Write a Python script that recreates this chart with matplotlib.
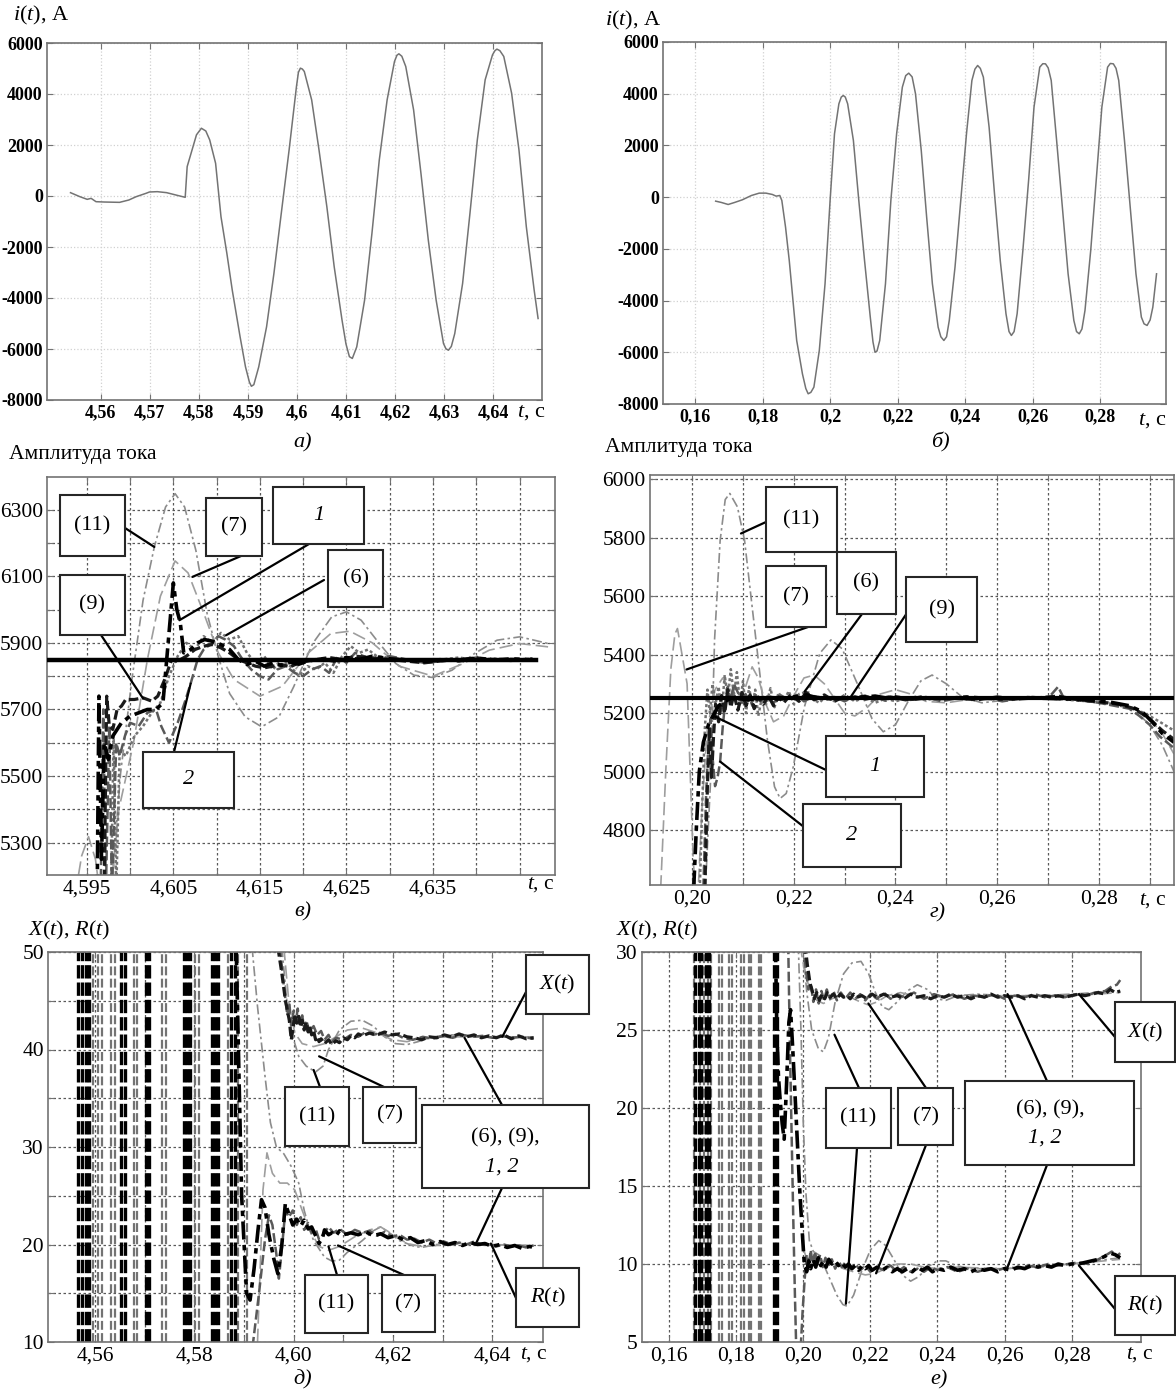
import numpy as np
import matplotlib
matplotlib.use("Agg")
import matplotlib.pyplot as plt
from matplotlib.patches import Rectangle

plt.rcParams['font.family'] = ['Liberation Serif', 'DejaVu Serif']
plt.rcParams['mathtext.fontset'] = 'custom'
plt.rcParams['mathtext.rm'] = 'Liberation Serif'
plt.rcParams['mathtext.it'] = 'Liberation Serif:italic'

W, H = 1176, 1394

# ---------- а) current i(t), model 1
a_pts = [(4.5538,130),(4.5557,-26),(4.5572,-131),(4.5580,-92),(4.5590,-223),(4.5607,-236),(4.5638,-249),
         (4.5657,-157),(4.5672,-26),(4.5692,105),(4.5699,157),(4.5715,170),(4.5734,131),(4.5753,39),(4.5772,-52),
         (4.5776,1152),(4.5784,1676),(4.5795,2400),(4.5805,2657),(4.5814,2550),(4.5822,2199),(4.5834,1283),
         (4.5845,-812),(4.5857,-2251),(4.5868,-3691),(4.5884,-5524),(4.5895,-6700),(4.5903,-7300),(4.5907,-7461),
         (4.5912,-7400),(4.5922,-6702),(4.5938,-5131),(4.5953,-3037),(4.5968,-681),(4.5984,1806),(4.5999,4294),
         (4.6003,4850),(4.6007,5013),(4.6011,4980),(4.6015,4883),(4.6030,3770),(4.6045,1806),(4.6061,-419),
         (4.6076,-2775),(4.6092,-4869),(4.6100,-5800),(4.6107,-6300),(4.6113,-6370),(4.6122,-5917),(4.6138,-4084),
         (4.6153,-1466),(4.6168,1414),(4.6184,3770),(4.6199,5275),(4.6204,5520),(4.6208,5576),(4.6214,5480),
         (4.6222,5079),(4.6238,3377),(4.6253,890),(4.6268,-1728),(4.6284,-4084),(4.6299,-5786),(4.6304,-5990),
         (4.6309,-6048),(4.6315,-5900),(4.6322,-5393),(4.6338,-3430),(4.6353,-681),(4.6368,2199),(4.6384,4555),
         (4.6399,5537),(4.6404,5700),(4.6408,5760),(4.6414,5700),(4.6422,5472),(4.6438,4032),(4.6453,1806),
         (4.6468,-1204),(4.6484,-3691),(4.6492,-4804)]
a_xt = [4.56, 4.57, 4.58, 4.59, 4.60, 4.61, 4.62, 4.63, 4.64]
a_xl = ['4,56', '4,57', '4,58', '4,59', '4,6', '4,61', '4,62', '4,63', '4,64']
i_yt = [6000, 4000, 2000, 0, -2000, -4000, -6000, -8000]
i_yl = ['6000', '4000', '2000', '0', '-2000', '-4000', '-6000', '-8000']

# ---------- б) current i(t), model 2
b_pts = [(0.1661,-155),(0.1678,-206),(0.1698,-284),(0.1717,-206),(0.1740,-103),(0.1767,64),(0.1790,155),
         (0.1810,155),(0.1829,103),(0.1840,39),(0.1851,64),(0.1857,-129),(0.1868,-1160),(0.1879,-2449),
         (0.1890,-3996),(0.1901,-5543),(0.1918,-6832),(0.1928,-7400),(0.1935,-7605),(0.1943,-7550),(0.1952,-7347),
         (0.1968,-5929),(0.1985,-3351),(0.2000,-129),(0.2013,2449),(0.2026,3609),(0.2033,3870),(0.2039,3931),
         (0.2045,3870),(0.2052,3609),(0.2069,2191),(0.2085,-129),(0.2102,-2449),(0.2119,-4640),(0.2127,-5600),
         (0.2133,-6000),(0.2139,-5950),(0.2147,-5543),(0.2164,-3351),(0.2180,-129),(0.2197,2449),(0.2214,4254),
         (0.2224,4700),(0.2233,4795),(0.2243,4650),(0.2253,3996),(0.2270,1805),(0.2286,-773),(0.2303,-3351),
         (0.2320,-5027),(0.2328,-5400),(0.2337,-5543),(0.2345,-5400),(0.2353,-4769),(0.2370,-2707),(0.2387,-129),
         (0.2404,2449),(0.2420,4512),(0.2429,4950),(0.2437,5092),(0.2445,4980),(0.2454,4640),(0.2471,2707),
         (0.2487,129),(0.2504,-2449),(0.2521,-4511),(0.2530,-5200),(0.2537,-5349),(0.2545,-5200),(0.2554,-4511),
         (0.2571,-2062),(0.2588,645),(0.2604,3480),(0.2621,5027),(0.2630,5160),(0.2638,5156),(0.2646,5000),
         (0.2655,4512),(0.2671,2191),(0.2688,-387),(0.2705,-2965),(0.2722,-4769),(0.2730,-5200),(0.2738,-5285),
         (0.2746,-5100),(0.2755,-4383),(0.2772,-2062),(0.2789,773),(0.2805,3480),(0.2822,5027),(0.2830,5170),
         (0.2839,5156),(0.2847,4980),(0.2855,4512),(0.2872,2191),(0.2889,-387),(0.2906,-2965),(0.2922,-4640),
         (0.2930,-4900),(0.2939,-4962),(0.2948,-4750),(0.2956,-4254),(0.2967,-2965)]
b_xt = [0.16, 0.18, 0.20, 0.22, 0.24, 0.26, 0.28]
b_xl = ['0,16', '0,18', '0,2', '0,22', '0,24', '0,26', '0,28']

# ---------- в) amplitude estimates, model 1
v_ref = 5850
v_c11 = [(4.5975,5150),(4.5980,5208),(4.5989,5508),(4.6002,5788),(4.6015,6028),(4.6028,6188),(4.6041,6308),
         (4.6052,6348),(4.6063,6308),(4.6076,6178),(4.6089,5988),(4.6102,5858),(4.6115,5748),(4.6133,5678),
         (4.6152,5648),(4.6172,5678),(4.6189,5768),(4.6211,5898),(4.6233,5978),(4.6250,5993),(4.6267,5968),
         (4.6285,5908),(4.6307,5838),(4.6328,5803),(4.6350,5796),(4.6372,5818),(4.6398,5868),(4.6424,5908),
         (4.6450,5918),(4.6467,5908),(4.6483,5898)]
v_c7 = [(4.5937,5150),(4.5944,5260),(4.5952,5318),(4.5960,5250),(4.5965,5150),(np.nan,np.nan),
        (4.5978,5150),(4.5987,5400),(4.6004,5600),(4.6020,5850),(4.6035,6040),(4.6052,6146),(4.6067,6110),
        (4.6085,5990),(4.6102,5870),(4.6120,5790),(4.6150,5740),(4.6176,5770),(4.6206,5870),(4.6232,5928),
        (4.6254,5935),(4.6280,5900),(4.6311,5830),(4.6350,5800),(4.6385,5838),(4.6415,5878),(4.6450,5898),
        (4.6483,5888)]
v_c1 = [(4.5962,5150),(4.5964,5740),(4.5967,5250),(4.5970,5600),(4.5975,5550),(4.5980,5620),(4.5990,5660),
        (4.6000,5680),(4.6010,5690),(4.6020,5700),(4.6030,5700),(4.6038,5720),(4.6044,5900),(4.6050,6080),
        (4.6054,6000),(4.6058,5960),(4.6062,5870),(4.6070,5880),(4.6078,5900),(4.6086,5910),(4.6095,5905),
        (4.6105,5895),(4.6115,5880),(4.6125,5850),(4.6135,5835),(4.6145,5845),(4.6155,5830),(4.6165,5840),
        (4.6175,5832),(4.6185,5842),(4.6195,5836),(4.6205,5845),(4.6220,5852),(4.6235,5846),(4.6250,5856),
        (4.6265,5850),(4.6280,5860),(4.6300,5852),(4.6320,5848),(4.6340,5844),(4.6360,5850),(4.6380,5846),
        (4.6400,5854),(4.6420,5848),(4.6440,5852),(4.6465,5849)]
v_c9 = [(4.5970,5150),(4.5973,5740),(4.5976,5650),(4.5980,5640),(4.5985,5700),(4.5990,5710),(4.5995,5730),
        (4.6005,5730),(4.6015,5735),(4.6025,5725),(4.6032,5740),(4.6040,5790),(4.6048,5850),(4.6055,5845),
        (4.6065,5860),(4.6075,5880),(4.6085,5890),(4.6095,5895),(4.6105,5885),(4.6115,5870),(4.6125,5850),
        (4.6135,5840),(4.6145,5830),(4.6155,5825),(4.6165,5830),(4.6175,5835),(4.6185,5828),(4.6195,5840),
        (4.6205,5845),(4.6215,5850),(4.6230,5856),(4.6245,5850),(4.6260,5860),(4.6280,5855),(4.6300,5850),
        (4.6320,5845),(4.6340,5840),(4.6360,5846),(4.6380,5850),(4.6400,5855),(4.6420,5850),(4.6440,5847),
        (4.6465,5852)]
v_c2 = [(4.5966,5150),(4.5969,5700),(4.5972,5150),(4.5976,5650),(4.5979,5150),(4.5984,5600),(4.5988,5560),
        (4.5994,5620),(4.6000,5660),(4.6010,5650),(4.6020,5690),(4.6030,5700),(4.6036,5650),(4.6045,5600),
        (4.6055,5660),(4.6063,5720),(4.6070,5778),(4.6078,5850),(4.6085,5880),(4.6095,5900),(4.6102,5920),
        (4.6110,5910),(4.6120,5890),(4.6130,5850),(4.6140,5820),(4.6150,5800),(4.6160,5790),(4.6170,5820),
        (4.6180,5830),(4.6190,5810),(4.6200,5800),(4.6210,5820),(4.6220,5830),(4.6230,5810),(4.6240,5860),
        (4.6250,5840),(4.6260,5870),(4.6270,5860),(4.6280,5850),(4.6300,5860),(4.6320,5850),(4.6340,5840),
        (4.6360,5845),(4.6380,5850),(4.6400,5855),(4.6420,5848),(4.6440,5852),(4.6465,5850)]
v_c6 = [(4.5978,5150),(4.5981,5620),(4.5984,5150),(4.5988,5580),(4.5995,5560),(4.6005,5620),(4.6015,5650),
        (4.6025,5690),(4.6035,5720),(4.6045,5800),(4.6055,5860),(4.6065,5900),(4.6075,5880),(4.6085,5920),
        (4.6095,5900),(4.6105,5930),(4.6115,5910),(4.6125,5920),(4.6135,5870),(4.6145,5840),(4.6155,5860),
        (4.6165,5820),(4.6175,5850),(4.6185,5830),(4.6195,5800),(4.6205,5830),(4.6215,5820),(4.6225,5840),
        (4.6235,5810),(4.6245,5860),(4.6255,5890),(4.6265,5870),(4.6275,5880),(4.6285,5860),(4.6300,5855),
        (4.6320,5850),(4.6340,5842),(4.6360,5850),(4.6380,5856),(4.6400,5848),(4.6420,5853),(4.6440,5849),
        (4.6465,5852)]
v_xt = [4.595, 4.605, 4.615, 4.625, 4.635]
v_xl = ['4,595', '4,605', '4,615', '4,625', '4,635']
v_xgrid = [4.600, 4.610, 4.620, 4.630, 4.640, 4.645]
v_yt = [5300, 5500, 5700, 5900, 6100, 6300]
v_ygrid = [5400, 5600, 5800, 6000, 6200]

# ---------- г) amplitude estimates, model 2
g_ref = 5250
g_c11 = [(0.2026,4600),(0.2037,5000),(0.2044,5450),(0.2055,5790),(0.2065,5930),(0.2074,5951),(0.2089,5905),
         (0.2103,5791),(0.2118,5563),(0.2133,5336),(0.2148,5108),(0.2162,4948),(0.2173,4908),(0.2185,4925),
         (0.2199,5017),(0.2221,5222),(0.2251,5404),(0.2273,5450),(0.2295,5420),(0.2325,5300),(0.2354,5180),
         (0.2376,5136),(0.2400,5160),(0.2425,5240),(0.2450,5310),(0.2472,5330),(0.2500,5300),(0.2531,5255),
         (0.2570,5235),(0.2620,5245),(0.2680,5255),(0.2740,5245),(0.2800,5240),(0.2840,5230),(0.2870,5210),
         (0.2900,5160),(0.2925,5090),(0.2948,5000)]
g_c7 = [(0.1938,4600),(0.1948,5000),(0.1958,5350),(0.1966,5470),(0.1971,5489),(0.1977,5430),(0.1984,5360),
        (0.1990,5300),(0.1996,5000),(0.2002,4700),(0.2006,4600),(0.2012,4600),(0.2020,4900),(0.2030,5150),
        (0.2045,5280),(0.2060,5320),(0.2075,5280),(0.2090,5230),(0.2105,5290),(0.2118,5358),(0.2130,5320),
        (0.2145,5230),(0.2160,5170),(0.2180,5190),(0.2200,5260),(0.2220,5320),(0.2240,5330),(0.2260,5300),
        (0.2280,5250),(0.2300,5200),(0.2320,5190),(0.2345,5220),(0.2370,5265),(0.2400,5280),(0.2430,5265),
        (0.2460,5240),(0.2500,5235),(0.2550,5248),(0.2600,5255),(0.2650,5250),(0.2700,5252),(0.2750,5248),
        (0.2800,5242),(0.2840,5232),(0.2870,5215),(0.2900,5180),(0.2925,5130),(0.2948,5060)]
g_c1 = [(0.2003,4600),(0.2008,4800),(0.2014,5000),(0.2022,5100),(0.2032,5160),(0.2041,5191),(0.2052,5225),
        (0.2064,5240),(0.2078,5252),(0.2090,5250),(0.2110,5245),(0.2130,5250),(0.2150,5255),(0.2170,5248),
        (0.2190,5252),(0.2210,5258),(0.2225,5262),(0.2240,5255),(0.2260,5250),(0.2280,5248),(0.2300,5252),
        (0.2320,5250),(0.2340,5255),(0.2360,5258),(0.2380,5252),(0.2400,5255),(0.2420,5250),(0.2440,5248),
        (0.2460,5252),(0.2500,5250),(0.2540,5255),(0.2580,5250),(0.2620,5248),(0.2660,5252),(0.2700,5250),
        (0.2740,5248),(0.2780,5245),(0.2820,5238),(0.2860,5225),(0.2885,5205),(0.2905,5170),(0.2925,5130),
        (0.2948,5100)]
g_c2 = [(0.2022,4600),(0.2027,4900),(0.2032,5100),(0.2036,5180),(0.2040,5050),(0.2045,4950),(0.2050,4980),
        (0.2055,5034),(0.2060,5150),(0.2065,5240),(0.2070,5290),(0.2076,5240),(0.2082,5300),(0.2090,5270),
        (0.2098,5235),(0.2105,5265),(0.2115,5230),(0.2125,5260),(0.2135,5240),(0.2145,5255),(0.2160,5235),
        (0.2175,5260),(0.2190,5245),(0.2205,5262),(0.2220,5240),(0.2240,5258),(0.2260,5245),(0.2280,5255),
        (0.2300,5240),(0.2320,5258),(0.2340,5245),(0.2360,5255),(0.2380,5242),(0.2400,5252),(0.2430,5245),
        (0.2460,5255),(0.2490,5240),(0.2520,5250),(0.2550,5245),(0.2580,5252),(0.2610,5240),(0.2640,5248),
        (0.2670,5255),(0.2700,5250),(0.2720,5290),(0.2730,5255),(0.2760,5245),(0.2800,5235),(0.2830,5225),
        (0.2860,5215),(0.2880,5190),(0.2900,5160),(0.2920,5120),(0.2948,5080)]
g_c6 = [(0.2015,4600),(0.2020,4900),(0.2025,5150),(0.2030,5280),(0.2035,5200),(0.2040,5300),(0.2046,5230),
        (0.2052,5290),(0.2058,5200),(0.2064,5330),(0.2070,5250),(0.2076,5350),(0.2082,5260),(0.2088,5340),
        (0.2094,5230),(0.2100,5310),(0.2106,5200),(0.2112,5290),(0.2118,5220),(0.2124,5280),(0.2130,5190),
        (0.2138,5260),(0.2146,5230),(0.2154,5285),(0.2162,5220),(0.2170,5270),(0.2180,5240),(0.2190,5275),
        (0.2200,5230),(0.2210,5265),(0.2220,5270),(0.2235,5250),(0.2250,5235),(0.2265,5260),(0.2280,5240),
        (0.2300,5262),(0.2320,5240),(0.2340,5255),(0.2360,5235),(0.2380,5250),(0.2400,5240),(0.2430,5255),
        (0.2460,5245),(0.2500,5255),(0.2540,5248),(0.2580,5252),(0.2620,5245),(0.2660,5255),(0.2700,5250),
        (0.2740,5245),(0.2780,5240),(0.2820,5230),(0.2860,5220),(0.2890,5200),(0.2920,5170),(0.2948,5140)]
g_c9 = [(0.2025,4600),(0.2030,4950),(0.2034,5150),(0.2038,4980),(0.2042,5120),(0.2046,5230),(0.2052,5170),
        (0.2058,5260),(0.2064,5200),(0.2070,5280),(0.2076,5220),(0.2082,5265),(0.2090,5210),(0.2098,5270),
        (0.2106,5225),(0.2114,5262),(0.2122,5215),(0.2130,5255),(0.2140,5230),(0.2150,5260),(0.2160,5225),
        (0.2170,5255),(0.2180,5235),(0.2195,5265),(0.2210,5240),(0.2225,5270),(0.2240,5245),(0.2260,5262),
        (0.2280,5240),(0.2300,5258),(0.2310,5250),(0.2340,5258),(0.2360,5248),(0.2390,5255),(0.2420,5245),
        (0.2450,5255),(0.2480,5248),(0.2520,5252),(0.2560,5245),(0.2600,5255),(0.2640,5248),(0.2680,5252),
        (0.2720,5258),(0.2760,5245),(0.2800,5238),(0.2840,5230),(0.2870,5215),(0.2900,5180),(0.2925,5140),
        (0.2948,5110)]
g_xt = [0.20, 0.22, 0.24, 0.26, 0.28]
g_xl = ['0,20', '0,22', '0,24', '0,26', '0,28']
g_xgrid = [0.21, 0.23, 0.25, 0.27, 0.29]
g_yt = [4800, 5000, 5200, 5400, 5600, 5800, 6000]

# ---------- д) X(t), R(t), model 1
d_black = [4.55662, 4.55737, 4.55812, 4.55872, 4.56526, 4.56602, 4.57015, 4.57090, 4.57782, 4.57842,
           4.57902, 4.58353, 4.58414, 4.58474, 4.58744, 4.58820]
d_grey = [4.55962, 4.56053, 4.56128, 4.56323, 4.56398, 4.56774, 4.56850, 4.57353, 4.57429, 4.58008,
          4.58083, 4.58684, 4.58880, 4.59060]
d_xb = [(4.5968,50.5),(4.5976,47.8),(4.5983,45.1),(4.5991,43.0),(4.5995,41.0),(4.5998,42.0),(4.6002,43.6),
        (4.6006,42.7),(4.6010,43.4),(4.6014,42.3),(4.6017,43.0),(4.6021,42.0),(4.6025,42.8),(4.6029,41.8),
        (4.6032,42.4),(4.6036,41.5),(4.6040,41.9),(4.6044,41.0),(4.6047,41.3),(4.6051,40.8),(4.6055,41.1),
        (4.6062,40.6),(4.6070,41.0),(4.6077,40.5),(4.6085,40.9),(4.6092,40.7),(4.6100,41.2),(4.6108,41.0),
        (4.6115,41.4),(4.6123,41.2),(4.6130,41.6),(4.6138,41.4),(4.6153,41.7),(4.6168,41.5),(4.6183,41.8),
        (4.6198,41.5),(4.6213,41.6),(4.6228,41.3),(4.6243,41.2),(4.6258,41.0),(4.6273,41.3),(4.6288,41.2),
        (4.6303,41.5),(4.6318,41.3),(4.6333,41.6),(4.6348,41.3),(4.6363,41.5),(4.6378,41.2),(4.6393,41.4),
        (4.6408,41.2),(4.6423,41.5),(4.6438,41.1),(4.6453,41.4),(4.6468,41.1),(4.6483,41.2)]
d_xg = [(4.5972,50.5),(4.5980,46.5),(4.5987,43.5),(4.5991,44.8),(4.5995,42.5),(4.6000,44.0),(4.6004,42.8),
        (4.6008,44.2),(4.6012,42.6),(4.6017,43.5),(4.6021,42.2),(4.6025,43.0),(4.6032,41.8),(4.6040,42.4),
        (4.6047,41.5),(4.6055,41.9),(4.6062,41.0),(4.6070,41.5),(4.6077,40.8),(4.6085,41.2),(4.6100,41.0),
        (4.6115,41.5),(4.6130,41.3),(4.6145,41.8),(4.6160,41.5),(4.6175,41.7),(4.6190,41.4),(4.6205,41.6),
        (4.6220,41.2),(4.6240,41.0),(4.6260,41.3),(4.6280,41.1),(4.6300,41.4),(4.6320,41.2),(4.6340,41.5),
        (4.6360,41.3),(4.6380,41.4),(4.6400,41.2),(4.6420,41.4),(4.6440,41.2),(4.6460,41.3),(4.6483,41.1)]
d_x11 = [(4.5976,50.5),(4.5987,44.4),(4.5998,41.3),(4.6010,39.3),(4.6025,38.3),(4.6044,37.7),(4.6059,38.3),
         (4.6070,40.0),(4.6092,42.0),(4.6115,42.9),(4.6138,43.0),(4.6160,42.4),(4.6183,41.3),(4.6205,40.6),
         (4.6228,40.5),(4.6250,40.8),(4.6280,41.3),(4.6318,41.5),(4.6393,41.3),(4.6483,41.3)]
d_x7 = [(4.5980,50.5),(4.5991,44.4),(4.6002,41.7),(4.6017,40.6),(4.6040,40.3),(4.6062,40.6),(4.6085,41.3),
        (4.6108,42.0),(4.6138,42.2),(4.6168,41.7),(4.6198,41.0),(4.6228,40.8),(4.6258,41.2),(4.6318,41.3),
        (4.6483,41.3)]
d_rb = [(4.5884,50.5),(4.5895,25.0),(4.5905,15.0),(4.5912,14.3),(4.5920,17.5),(4.5928,21.5),(4.5935,24.6),
        (4.5942,23.8),(4.5950,21.0),(4.5960,18.5),(4.5968,17.0),(4.5976,20.0),(4.5983,24.2),(4.5991,23.0),
        (4.5998,22.0),(4.6006,22.6),(4.6014,21.9),(4.6021,22.5),(4.6029,21.6),(4.6036,21.8),(4.6044,20.9),
        (4.6051,20.1),(4.6059,20.9),(4.6062,21.5),(4.6070,21.0),(4.6077,21.2),(4.6085,20.9),(4.6092,21.4),
        (4.6100,21.0),(4.6115,21.2),(4.6130,21.0),(4.6145,21.3),(4.6160,20.9),(4.6175,21.1),(4.6190,20.7),
        (4.6205,20.9),(4.6220,20.5),(4.6235,20.7),(4.6250,20.2),(4.6265,20.4),(4.6280,20.0),(4.6295,20.3),
        (4.6310,20.0),(4.6325,20.2),(4.6340,19.9),(4.6355,20.2),(4.6370,20.0),(4.6385,20.1),(4.6400,19.8),
        (4.6415,20.0),(4.6430,19.7),(4.6445,19.9),(4.6460,19.6),(4.6475,19.8),(4.6483,19.7)]
d_rg = [(4.5917,9.5),(4.5930,15.0),(4.5942,20.5),(4.5950,23.0),(4.5957,22.0),(4.5965,19.0),(4.5970,16.5),
        (4.5976,19.5),(4.5983,23.5),(4.5990,22.8),(4.5998,23.5),(4.6006,22.0),(4.6014,22.8),(4.6021,21.5),
        (4.6029,22.2),(4.6036,21.2),(4.6044,21.6),(4.6051,20.5),(4.6059,21.0),(4.6070,21.8),(4.6080,21.2),
        (4.6092,21.6),(4.6108,21.0),(4.6123,21.5),(4.6138,21.2),(4.6153,21.4),(4.6168,20.9),(4.6183,21.3),
        (4.6198,20.8),(4.6213,21.0),(4.6228,20.5),(4.6243,20.6),(4.6258,20.2),(4.6273,20.5),(4.6288,20.1),
        (4.6303,20.3),(4.6318,20.0),(4.6333,20.2),(4.6348,20.0),(4.6363,20.3),(4.6378,20.0),(4.6393,20.1),
        (4.6408,19.8),(4.6423,20.0),(4.6438,19.8),(4.6453,19.9),(4.6468,19.7),(4.6483,19.9)]
d_r11 = [(4.5916,50.5),(4.5927,44.4),(4.5942,37.3),(4.5953,32.5),(4.5965,30.0),(4.5980,29.3),(4.5995,28.0),
         (4.6010,26.3),(4.6021,23.5),(4.6032,21.5),(4.6040,20.4),(4.6062,18.7),(4.6077,18.3),(4.6092,18.4),
         (4.6108,19.2),(4.6138,20.4),(4.6160,21.4),(4.6175,21.8),(4.6198,21.0),(4.6213,20.4),(4.6243,19.8),
         (4.6258,19.7),(4.6288,20.0),(4.6333,20.1),(4.6393,20.0),(4.6483,19.9)]
d_r7 = [(4.5927,10.0),(4.5938,25.6),(4.5946,29.4),(4.5957,27.3),(4.5972,26.3),(4.5987,26.3),(4.6002,25.6),
        (4.6017,23.5),(4.6032,21.5),(4.6051,19.8),(4.6070,19.4),(4.6092,19.8),(4.6123,20.8),(4.6153,21.5),
        (4.6175,21.8),(4.6198,21.1),(4.6228,20.1),(4.6258,19.8),(4.6288,19.9),(4.6333,20.1),(4.6393,20.0),
        (4.6483,19.8)]
d_xt = [4.56, 4.58, 4.60, 4.62, 4.64]
d_xl = ['4,56', '4,58', '4,60', '4,62', '4,64']
d_xgrid = [4.57, 4.59, 4.61, 4.63]
d_yt = [10, 20, 30, 40, 50]
d_ygrid = [15, 25, 35, 45]

# ---------- е) X(t), R(t), model 2
e_black = [0.16785, 0.16875, 0.16964, 0.17099, 0.17189, 0.19140, 0.19207]
e_grey = [0.16729, 0.16920, 0.17032, 0.17144, 0.17234, 0.17480, 0.17570, 0.17772, 0.17862, 0.18153,
          0.18220, 0.18377, 0.18445, 0.18669, 0.18748]
e_rb = [(0.1917,30.5),(0.1921,25.0),(0.1926,22.0),(0.1931,20.5),(0.1937,19.0),(0.1943,18.0),(0.1950,21.5),
        (0.1957,25.5),(0.1962,26.3),(0.1968,24.0),(0.1975,21.0),(0.1983,17.5),(0.1990,14.5),(0.1997,12.0),
        (0.2003,10.0),(0.2010,9.5),(0.2016,10.2),(0.2022,9.7),(0.2030,10.3),(0.2037,9.8),(0.2045,10.4),
        (0.2052,9.9),(0.2060,10.2),(0.2068,9.8),(0.2076,10.3),(0.2085,10.0),(0.2095,10.2),(0.2105,9.9),
        (0.2115,10.1),(0.2125,9.8),(0.2135,10.0),(0.2145,9.7),(0.2155,9.9),(0.2165,9.6),(0.2175,9.9),
        (0.2185,9.7),(0.2195,9.9),(0.2205,9.6),(0.2220,9.8),(0.2235,9.6),(0.2250,9.8),(0.2265,9.5),
        (0.2280,9.7),(0.2295,9.5),(0.2310,9.7),(0.2325,9.5),(0.2340,9.8),(0.2355,9.6),(0.2370,9.8),
        (0.2385,9.5),(0.2400,9.7),(0.2420,9.6),(0.2440,9.8),(0.2460,9.6),(0.2480,9.7),(0.2500,9.5),
        (0.2520,9.7),(0.2540,9.6),(0.2560,9.7),(0.2580,9.5),(0.2600,9.7),(0.2620,9.6),(0.2640,9.8),
        (0.2660,9.7),(0.2680,9.9),(0.2700,9.8),(0.2720,9.9),(0.2740,9.8),(0.2760,10.0),(0.2780,9.9),
        (0.2800,10.0),(0.2820,10.0),(0.2840,10.1),(0.2860,10.2),(0.2880,10.3),(0.2900,10.5),(0.2915,10.7),
        (0.2930,10.6),(0.2945,10.4)]
e_rg = [(0.1955,30.5),(0.1960,24.0),(0.1965,18.5),(0.1970,13.0),(0.1975,8.0),(0.1979,4.5),(0.1992,4.5),
        (0.1998,7.0),(0.2004,9.0),(0.2010,10.6),(0.2016,9.8),(0.2022,10.9),(0.2028,10.0),(0.2035,10.8),
        (0.2042,9.9),(0.2050,10.6),(0.2058,9.8),(0.2066,10.4),(0.2075,9.9),(0.2085,10.3),(0.2095,9.7),
        (0.2105,10.2),(0.2115,9.8),(0.2125,10.1),(0.2140,9.7),(0.2155,10.0),(0.2170,9.6),(0.2185,9.9),
        (0.2200,9.5),(0.2220,9.8),(0.2240,9.6),(0.2260,9.9),(0.2280,9.5),(0.2300,9.8),(0.2320,9.5),
        (0.2340,9.7),(0.2360,9.5),(0.2380,9.8),(0.2400,9.6),(0.2430,9.8),(0.2460,9.5),(0.2490,9.7),
        (0.2520,9.5),(0.2550,9.7),(0.2580,9.6),(0.2610,9.8),(0.2640,9.7),(0.2670,9.9),(0.2700,9.8),
        (0.2730,10.0),(0.2760,9.9),(0.2790,10.0),(0.2820,10.1),(0.2850,10.0),(0.2880,10.3),(0.2905,10.6),
        (0.2920,10.8),(0.2935,10.5),(0.2945,10.7)]
e_xb = [(0.2005,30.5),(0.2012,29.2),(0.2020,28.0),(0.2027,27.5),(0.2033,27.0),(0.2040,27.4),(0.2048,26.9),
        (0.2056,27.3),(0.2064,27.0),(0.2072,27.4),(0.2080,27.1),(0.2090,27.3),(0.2100,27.0),(0.2110,27.3),
        (0.2120,27.1),(0.2130,27.2),(0.2140,27.0),(0.2150,27.3),(0.2160,27.1),(0.2175,27.2),(0.2190,27.0),
        (0.2205,27.3),(0.2220,27.1),(0.2240,27.3),(0.2260,27.1),(0.2280,27.2),(0.2300,27.0),(0.2320,27.3),
        (0.2340,27.1),(0.2360,27.2),(0.2380,27.0),(0.2400,27.2),(0.2420,27.1),(0.2440,27.3),(0.2460,27.1),
        (0.2480,27.2),(0.2500,27.0),(0.2520,27.2),(0.2540,27.1),(0.2560,27.3),(0.2580,27.1),(0.2600,27.2),
        (0.2620,27.1),(0.2640,27.2),(0.2660,27.0),(0.2680,27.2),(0.2700,27.1),(0.2720,27.2),(0.2740,27.1),
        (0.2760,27.2),(0.2780,27.1),(0.2800,27.2),(0.2820,27.3),(0.2840,27.2),(0.2860,27.3),(0.2880,27.4),
        (0.2900,27.3),(0.2915,27.6),(0.2930,27.4),(0.2945,27.5)]
e_xg = [(0.2000,30.5),(0.2008,28.8),(0.2015,27.6),(0.2022,28.0),(0.2030,26.8),(0.2038,27.6),(0.2046,26.7),
        (0.2054,27.5),(0.2062,26.9),(0.2070,27.6),(0.2080,27.0),(0.2090,27.5),(0.2100,26.9),(0.2112,27.4),
        (0.2125,27.0),(0.2140,27.4),(0.2155,27.0),(0.2170,27.3),(0.2185,26.9),(0.2200,27.3),(0.2220,27.0),
        (0.2240,27.4),(0.2260,27.0),(0.2280,27.3),(0.2300,27.1),(0.2330,27.4),(0.2360,27.0),(0.2390,27.3),
        (0.2420,27.1),(0.2450,27.3),(0.2480,27.0),(0.2510,27.2),(0.2540,27.1),(0.2570,27.3),(0.2600,27.0),
        (0.2630,27.2),(0.2660,27.1),(0.2690,27.3),(0.2720,27.1),(0.2750,27.2),(0.2780,27.1),(0.2810,27.3),
        (0.2840,27.2),(0.2870,27.4),(0.2900,27.5),(0.2920,27.8),(0.2935,27.9),(0.2945,28.2)]
e_x11 = [(0.1998,30.5),(0.2010,27.5),(0.2025,25.0),(0.2045,23.8),(0.2060,23.6),(0.2075,24.5),(0.2095,26.8),
         (0.2120,28.6),(0.2145,29.3),(0.2172,29.4),(0.2195,28.6),(0.2215,27.4),(0.2235,26.5),(0.2255,26.3),
         (0.2280,26.8),(0.2310,27.5),(0.2340,27.9),(0.2370,27.6),(0.2396,27.0),(0.2425,26.9),(0.2460,27.2),
         (0.2520,27.3),(0.2600,27.2),(0.2700,27.2),(0.2800,27.3),(0.2945,27.5)]
e_x7 = [(0.1990,30.5),(0.2005,28.6),(0.2020,27.6),(0.2040,26.9),(0.2060,26.7),(0.2085,27.0),(0.2110,27.2),
        (0.2140,27.1),(0.2170,26.8),(0.2195,26.6),(0.2220,26.8),(0.2250,27.2),(0.2290,27.4),(0.2330,27.2),
        (0.2380,27.1),(0.2450,27.2),(0.2600,27.2),(0.2800,27.2),(0.2945,27.4)]
e_r11 = [(0.1985,30.5),(0.1993,25.0),(0.2000,19.0),(0.2008,14.5),(0.2018,11.5),(0.2030,10.8),(0.2045,10.6),
         (0.2060,10.0),(0.2080,9.0),(0.2100,8.0),(0.2118,7.4),(0.2130,7.3),(0.2150,8.0),(0.2175,9.6),
         (0.2200,10.9),(0.2225,11.5),(0.2245,11.2),(0.2270,10.3),(0.2295,9.3),(0.2320,8.9),(0.2345,9.2),
         (0.2370,9.8),(0.2400,10.2),(0.2425,10.2),(0.2455,9.9),(0.2500,9.7),(0.2600,9.7),(0.2700,9.8),
         (0.2800,10.0),(0.2945,10.4)]
e_r7 = [(0.2000,11.0),(0.2015,10.0),(0.2035,10.5),(0.2060,10.4),(0.2090,10.0),(0.2120,9.7),(0.2150,9.5),
        (0.2185,9.3),(0.2215,9.4),(0.2245,9.7),(0.2280,10.0),(0.2320,10.0),(0.2360,9.8),(0.2400,9.7),
        (0.2450,9.8),(0.2600,9.7),(0.2800,10.0),(0.2945,10.3)]
e_xt = [0.16, 0.18, 0.20, 0.22, 0.24, 0.26, 0.28]
e_xl = ['0,16', '0,18', '0,20', '0,22', '0,24', '0,26', '0,28']
e_yt = [5, 10, 15, 20, 25, 30]

# line styles of the estimates
ST = {
    '1':  dict(color='k', lw=2.6, ls=(0, (5, 1.5, 1.5, 1.5))),
    '9':  dict(color='0.1', lw=2.3, ls=(0, (3, 1.2))),
    '2':  dict(color='0.35', lw=1.8, ls=(0, (4, 1.5))),
    '6':  dict(color='0.45', lw=1.8, ls=(0, (1.2, 1))),
    '7':  dict(color='0.62', lw=1.2, ls=(0, (8, 3))),
    '11': dict(color='0.55', lw=1.2, ls=(0, (6, 2, 1.5, 2))),
}

fig = plt.figure(figsize=(W / 100, H / 100), dpi=100)


def fx(x):
    return x / W


def fy(y):
    return 1 - y / H


def make_ax(l, t, r, b, xlim, ylim, light=False):
    ax = fig.add_axes([fx(l), fy(b), (r - l) / W, (b - t) / H])
    ax.set_xlim(xlim)
    ax.set_ylim(ylim)
    for s in ax.spines.values():
        s.set_color('0.45')
        s.set_linewidth(1.2)
    ax.tick_params(which='both', direction='in', length=4, color='0.45', width=0.8,
                   top=True, right=True, pad=3)
    if light:
        ax.grid(True, which='both', color='0.82', ls=':', lw=0.9)
    else:
        ax.grid(True, which='both', color='0.35', ls=(0, (2, 2)), lw=0.9)
    ax.set_axisbelow(True)
    return ax


def curve(ax, pts, key, z=2):
    t, v = zip(*pts)
    ax.plot(t, v, zorder=z, **ST[key])


def lead(ax, px, py, xy):
    ax.annotate('', xy=xy, xycoords='data', xytext=(fx(px), fy(py)), textcoords='figure fraction',
                arrowprops=dict(arrowstyle='-', color='k', lw=1.6, shrinkA=0, shrinkB=0),
                annotation_clip=False, zorder=6)


def box(x0, y0, x1, y1, txt=None, italic=False, fs=16):
    fig.patches.append(Rectangle((fx(x0), fy(y1)), (x1 - x0) / W, (y1 - y0) / H, transform=fig.transFigure,
                                 facecolor='white', edgecolor='0.15', lw=1.5, zorder=10))
    if txt is not None:
        fig.text(fx((x0 + x1) / 2), fy((y0 + y1) / 2), txt, ha='center', va='center', fontsize=fs,
                 fontstyle='italic' if italic else 'normal', zorder=11)


def label(x, y, s, fs=16, ha='left', italic=False):
    fig.text(fx(x), fy(y), s, ha=ha, va='center', fontsize=fs, zorder=11,
             fontstyle='italic' if italic else 'normal')


TB = dict(fontsize=13, fontweight='bold')
TN = dict(fontsize=15.5)

# ---------------- а)
ax = make_ax(47, 43, 542, 400, (4.549, 4.650), (-8000, 6000), light=True)
t, v = zip(*a_pts)
ax.plot(t, v, color='0.45', lw=1.1)
ax.set_xticks(a_xt, a_xl, **TB)
ax.set_yticks(i_yt, i_yl, **TB)
label(13, 15, r'$i$($t$), А')
label(531, 413, r'$t$, с', ha='center')
label(303, 443, 'а)', ha='center', italic=True)

# ---------------- б)
ax = make_ax(663, 42, 1166, 404, (0.1505, 0.2995), (-8000, 6000), light=True)
t, v = zip(*b_pts)
ax.plot(t, v, color='0.45', lw=1.1)
ax.set_xticks(b_xt, b_xl, **TB)
ax.set_yticks(i_yt, i_yl, **TB)
label(605, 20, r'$i$($t$), А')
label(1152, 420, r'$t$, с', ha='center')
label(940, 442, 'б)', ha='center', italic=True)

# ---------------- в)
ax = make_ax(47, 477, 555, 875, (4.5904, 4.6491), (5203, 6398))
ax.set_xticks(v_xt, v_xl, **TN)
ax.set_xticks(v_xgrid, minor=True)
ax.set_yticks(v_yt, [str(y) for y in v_yt], **TN)
ax.set_yticks(v_ygrid, minor=True)
curve(ax, v_c11, '11')
curve(ax, v_c7, '7')
curve(ax, v_c6, '6')
curve(ax, v_c2, '2')
curve(ax, v_c9, '9')
curve(ax, v_c1, '1')
ax.plot([4.5904, 4.6469], [v_ref, v_ref], color='k', lw=3.2, zorder=4)
lead(ax, 125, 528, (4.6028, 6188))
lead(ax, 241, 556, (4.6072, 6098))
lead(ax, 309, 544, (4.6057, 5968))
lead(ax, 324, 580, (4.6111, 5923))
lead(ax, 101, 635, (4.6015, 5733))
lead(ax, 174, 752, (4.6070, 5778))
box(60, 495, 125, 556, '(11)')
box(206, 498, 262, 556, '(7)')
box(273, 487, 364, 544, '1', italic=True)
box(328, 550, 383, 607, '(6)')
box(60, 575, 125, 635, '(9)')
box(143, 752, 234, 808, '2', italic=True)
label(9, 455, 'Амплитуда тока', fs=15.5)
label(541, 885, r'$t$, с', ha='center', fs=15.5)
label(303, 912, 'в)', ha='center', italic=True)

# ---------------- г)
ax = make_ax(650, 475, 1174, 885, (0.1917, 0.2948), (4612, 6014))
ax.set_xticks(g_xt, g_xl, **TN)
ax.set_xticks(g_xgrid, minor=True)
ax.set_yticks(g_yt, [str(y) for y in g_yt], **TN)
curve(ax, g_c11, '11')
curve(ax, g_c7, '7')
curve(ax, g_c6, '6')
curve(ax, g_c2, '2')
curve(ax, g_c9, '9')
curve(ax, g_c1, '1')
ax.axhline(g_ref, color='k', lw=3.0, zorder=4)
lead(ax, 766, 522, (0.2096, 5814))
lead(ax, 862, 614, (0.2221, 5273))
lead(ax, 808, 627, (0.1989, 5349))
lead(ax, 907, 613, (0.2310, 5250))
lead(ax, 826, 770, (0.2041, 5191))
lead(ax, 804, 827, (0.2055, 5034))
box(766, 487, 837, 552, '(11)')
box(837, 552, 896, 614, '(6)')
box(766, 566, 826, 627, '(7)')
box(906, 577, 977, 642, '(9)')
box(826, 736, 924, 797, '1', italic=True)
box(803, 804, 901, 867, '2', italic=True)
label(605, 448, 'Амплитуда тока', fs=15.5)
label(1153, 900, r'$t$, с', ha='center', fs=15.5)
label(938, 913, 'г)', ha='center', italic=True)

# ---------------- д)
ax = make_ax(48, 952, 543, 1342, (4.5505, 4.6502), (10, 50))
ax.set_xticks(d_xt, d_xl, **TN)
ax.set_xticks(d_xgrid, minor=True)
ax.set_yticks(d_yt, [str(y) for y in d_yt], **TN)
ax.set_yticks(d_ygrid, minor=True)
ax.vlines(d_grey, 10, 50, colors='0.45', linestyles=(0, (4, 1.5)), lw=1.6, zorder=2)
ax.vlines(d_black, 10, 50, colors='k', linestyles=(0, (4, 1.2)), lw=2.4, zorder=2)
curve(ax, d_r11, '11')
curve(ax, d_x11, '11')
curve(ax, d_r7, '7')
curve(ax, d_x7, '7')
curve(ax, d_rg, '2')
curve(ax, d_xg, '2')
curve(ax, d_rb, '1')
curve(ax, d_xb, '9')
lead(ax, 526, 992, (4.6420, 41.3))
lead(ax, 320, 1087, (4.6040, 37.9))
lead(ax, 384, 1087, (4.6051, 39.3))
lead(ax, 502, 1105, (4.6344, 41.2))
lead(ax, 502, 1188, (4.6367, 20.1))
lead(ax, 337, 1275, (4.6070, 19.8))
lead(ax, 404, 1275, (4.6089, 19.9))
lead(ax, 516, 1298, (4.6397, 20.1))
box(526, 955, 589, 1014, r'$X$($t$)')
box(285, 1087, 349, 1146, '(11)')
box(363, 1087, 416, 1143, '(7)')
box(422, 1105, 589, 1188)
label(505, 1138, '(6), (9),', ha='center')
label(502, 1167, '1, 2', ha='center', italic=True)
box(305, 1275, 368, 1333, '(11)')
box(382, 1275, 435, 1332, '(7)')
box(516, 1268, 579, 1327, r'$R$($t$)')
label(28, 930, r'$X$($t$), $R$($t$)')
label(534, 1355, r'$t$, с', ha='center', fs=15.5)
label(303, 1380, 'д)', ha='center', italic=True)

# ---------------- е)
ax = make_ax(642, 952, 1141, 1342, (0.1519, 0.3007), (5, 30))
ax.set_xticks(e_xt, e_xl, **TN)
ax.set_yticks(e_yt, [str(y) for y in e_yt], **TN)
ax.vlines(e_grey, 5, 30, colors='0.45', linestyles=(0, (4, 1.5)), lw=1.6, zorder=2)
ax.vlines(e_black, 5, 30, colors='k', linestyles=(0, (4, 1.2)), lw=2.4, zorder=2)
curve(ax, e_r11, '11')
curve(ax, e_x11, '11')
curve(ax, e_r7, '7')
curve(ax, e_x7, '7')
curve(ax, e_rg, '2')
curve(ax, e_xg, '2')
curve(ax, e_rb, '1')
curve(ax, e_xb, '9')
lead(ax, 1115, 1037, (0.2822, 27.3))
lead(ax, 859, 1088, (0.2093, 24.7))
lead(ax, 857, 1148, (0.2127, 7.45))
lead(ax, 926, 1088, (0.2194, 26.7))
lead(ax, 926, 1145, (0.2217, 9.4))
lead(ax, 1047, 1081, (0.2609, 27.3))
lead(ax, 1047, 1165, (0.2609, 9.8))
lead(ax, 1115, 1309, (0.2822, 9.9))
box(1115, 1002, 1175, 1062, r'$X$($t$)')
box(826, 1088, 891, 1148, '(11)')
box(898, 1088, 953, 1145, '(7)')
box(965, 1081, 1134, 1165)
label(1050, 1110, '(6), (9),', ha='center')
label(1045, 1138, '1, 2', ha='center', italic=True)
box(1115, 1276, 1175, 1335, r'$R$($t$)')
label(616, 930, r'$X$($t$), $R$($t$)')
label(1140, 1355, r'$t$, с', ha='center', fs=15.5)
label(939, 1380, 'е)', ha='center', italic=True)

fig.savefig('out.png', dpi=100)
